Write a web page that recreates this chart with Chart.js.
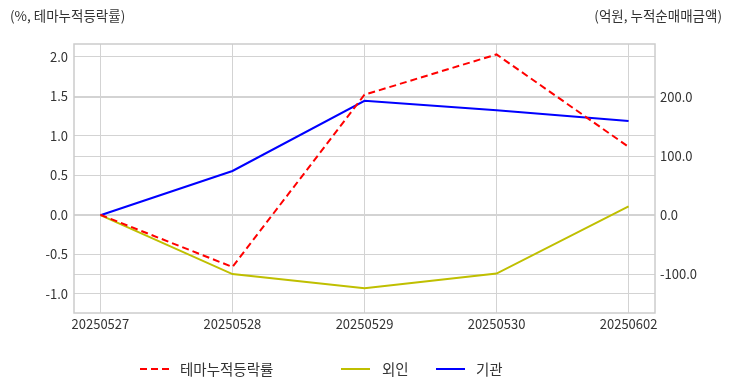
<!DOCTYPE html>
<html>
<head>
<meta charset="utf-8">
<script src="https://cdn.jsdelivr.net/npm/chart.js@4"></script>
<style>
  html, body { margin: 0; padding: 0; background: #fff; }
  #wrap { width: 732px; height: 392px; }
</style>
</head>
<body>
<div id="wrap"><canvas id="chart" width="732" height="392"></canvas></div>
<script>
// 데이터
const dates = ['20250527', '20250528', '20250529', '20250530', '20250602'];
const themeRate = [0.0, -0.66, 1.52, 2.03, 0.86];     // 테마누적등락률 (%)
const foreignNet = [0.0, -100.0, -124.0, -99.0, 15.0]; // 외인 (억원)
const instNet = [0.0, 75.0, 194.0, 178.0, 160.0];      // 기관 (억원)
const leftTicks = [-1.0, -0.5, 0.0, 0.5, 1.0, 1.5, 2.0];
const rightTicks = [-100.0, 0.0, 100.0, 200.0];

const FONT = "'Noto Sans CJK KR', 'Noto Sans', sans-serif";
const TEXT = '#333333';
const GRID = '#d3d3d3';

function toPoints(arr) {
    return arr.map((v, i) => ({ x: i, y: v }));
}

// 축 제목, 테두리, 범례를 그리는 플러그인
const extras = {
    id: 'extras',
    beforeDatasetsDraw(chart) {
        const { ctx, chartArea: a } = chart;
        ctx.save();
        ctx.strokeStyle = '#cccccc';
        ctx.lineWidth = 1.5;
        ctx.strokeRect(a.left, a.top, a.right - a.left, a.bottom - a.top);
        ctx.restore();
    },
    afterDraw(chart) {
        const ctx = chart.ctx;
        ctx.save();
        ctx.fillStyle = TEXT;
        ctx.font = '13.5px ' + FONT;
        ctx.textBaseline = 'middle';
        ctx.textAlign = 'left';
        ctx.fillText('(%, 테마누적등락률)', 10, 16);
        ctx.textAlign = 'right';
        ctx.fillText('(억원, 누적순매매금액)', 722, 16);

        // 범례
        const spots = [[140, 180], [341, 382], [436, 476]];
        const ly = 369;
        ctx.font = '14.5px ' + FONT;
        ctx.textAlign = 'left';
        chart.data.datasets.forEach((ds, i) => {
            const [mx, tx] = spots[i];
            ctx.beginPath();
            ctx.setLineDash(ds.borderDash || []);
            ctx.strokeStyle = ds.borderColor;
            ctx.lineWidth = 2;
            ctx.moveTo(mx, ly);
            ctx.lineTo(mx + 29, ly);
            ctx.stroke();
            ctx.setLineDash([]);
            ctx.fillStyle = TEXT;
            ctx.fillText(ds.label, tx, ly);
        });
        ctx.restore();
    }
};

new Chart(document.getElementById('chart'), {
    type: 'line',
    data: {
        datasets: [
            {
                label: '테마누적등락률',
                data: toPoints(themeRate),
                borderColor: '#ff0000',
                borderDash: [7, 4],
                borderWidth: 2,
                yAxisID: 'y'
            },
            {
                label: '외인',
                data: toPoints(foreignNet),
                borderColor: '#bfbf00',
                borderWidth: 2,
                yAxisID: 'y1'
            },
            {
                label: '기관',
                data: toPoints(instNet),
                borderColor: '#0000ff',
                borderWidth: 2,
                yAxisID: 'y1'
            }
        ]
    },
    options: {
        responsive: false,
        animation: false,
        events: [],
        elements: {
            point: { radius: 0 },
            line: { tension: 0, borderCapStyle: 'butt' }
        },
        layout: { padding: { top: 44, left: 0, right: 0, bottom: 0 } },
        plugins: {
            legend: { display: false },
            tooltip: { enabled: false }
        },
        scales: {
            x: {
                type: 'linear',
                min: -0.2,
                max: 4.2,
                afterBuildTicks: (s) => { s.ticks = dates.map((d, i) => ({ value: i })); },
                afterFit: (s) => { s.height = 79; },
                ticks: {
                    color: TEXT,
                    font: { family: FONT, size: 13 },
                    padding: 3,
                    maxRotation: 0,
                    autoSkip: false,
                    callback: (v) => dates[v]
                },
                grid: { color: GRID, lineWidth: 1, drawTicks: false },
                border: { display: false }
            },
            y: {
                position: 'left',
                min: -1.243,
                max: 2.162,
                afterBuildTicks: (s) => { s.ticks = leftTicks.map(v => ({ value: v })); },
                afterFit: (s) => { s.width = 74; },
                ticks: {
                    color: TEXT,
                    font: { family: FONT, size: 13 },
                    padding: 6,
                    callback: (v) => v.toFixed(1)
                },
                grid: { color: GRID, lineWidth: 1, drawTicks: false },
                border: { display: false }
            },
            y1: {
                position: 'right',
                min: -166,
                max: 290.5,
                afterBuildTicks: (s) => { s.ticks = rightTicks.map(v => ({ value: v })); },
                afterFit: (s) => { s.width = 77; },
                ticks: {
                    color: TEXT,
                    font: { family: FONT, size: 13 },
                    padding: 5,
                    callback: (v) => v.toFixed(1)
                },
                grid: { color: GRID, lineWidth: 1, drawTicks: false },
                border: { display: false }
            }
        }
    },
    plugins: [extras]
});
</script>
</body>
</html>
